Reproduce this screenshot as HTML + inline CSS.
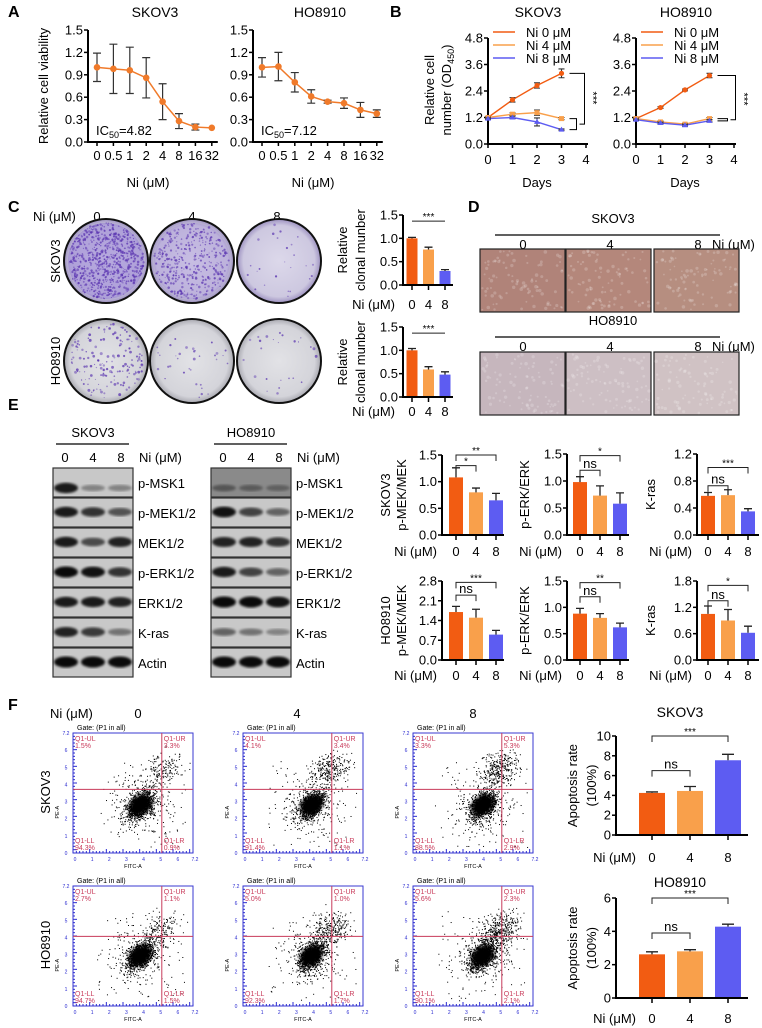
<!DOCTYPE html>
<html><head><meta charset="utf-8">
<style>
html,body{margin:0;padding:0;background:#fff;}
svg{display:block;font-family:"Liberation Sans",Arial,sans-serif;}
</style></head>
<body>
<svg id="fig" width="762" height="1028" viewBox="0 0 762 1028" xmlns="http://www.w3.org/2000/svg">
<defs>
<radialGradient id="dishLight" cx="50%" cy="50%" r="50%"><stop offset="0%" stop-color="#dcd8ea"/><stop offset="85%" stop-color="#cdc8e0"/><stop offset="100%" stop-color="#9c90c0"/></radialGradient>
<radialGradient id="dishGray" cx="50%" cy="50%" r="50%"><stop offset="0%" stop-color="#e2e2e6"/><stop offset="85%" stop-color="#d4d4da"/><stop offset="100%" stop-color="#a8a8b0"/></radialGradient>
<filter id="blur1"><feGaussianBlur stdDeviation="1.2"/></filter>
<filter id="blur2"><feGaussianBlur stdDeviation="2"/></filter>
</defs>
</svg>
<script>
// ---------- DATA ----------
const aDoses=['0','0.5','1','2','4','8','16','32'];
const aSkovMean=[1.0,0.98,0.96,0.86,0.54,0.28,0.20,0.19];
const aSkovErr=[0.19,0.33,0.31,0.27,0.24,0.10,0.04,0.0];
const aHoMean=[1.0,1.01,0.80,0.61,0.54,0.52,0.43,0.38];
const aHoErr=[0.13,0.19,0.13,0.09,0.02,0.07,0.10,0.05];
const aYTicks=[0,0.3,0.6,0.9,1.2,1.5];

const bDays=[0,1,2,3];
const bXTicks=[0,1,2,3,4];
const bYTicks=[0,1.2,2.4,3.6,4.8];
const bSkov0=[1.2,2.0,2.65,3.2], bSkov0Err=[0.04,0.1,0.12,0.2];
const bSkov4=[1.2,1.35,1.42,1.15], bSkov4Err=[0.03,0.06,0.12,0.05];
const bSkov8=[1.15,1.2,1.0,0.65], bSkov8Err=[0.03,0.06,0.18,0.03];
const bHo0=[1.15,1.65,2.45,3.1], bHo0Err=[0.03,0.04,0.04,0.1];
const bHo4=[1.15,1.0,0.9,1.15], bHo4Err=[0.03,0.04,0.04,0.05];
const bHo8=[1.1,0.95,0.85,1.05], bHo8Err=[0.03,0.04,0.04,0.05];
const legendLabels=['Ni 0 μM','Ni 4 μM','Ni 8 μM'];

const doseLabels=['0','4','8'];
const cSkovVals=[1.0,0.76,0.30], cSkovErr=[0.02,0.05,0.03];
const cHoVals=[1.0,0.59,0.48], cHoErr=[0.04,0.06,0.06];
const cYTicks=[0,0.5,1.0,1.5];
const dishDensity=[[700,380,25],[160,35,25]];

const eSkovMek=[1.08,0.80,0.65], eSkovMekErr=[0.18,0.08,0.13];
const eSkovErk=[0.98,0.73,0.58], eSkovErkErr=[0.10,0.18,0.20];
const eSkovKras=[0.58,0.59,0.35], eSkovKrasErr=[0.05,0.08,0.04];
const eHoMek=[1.70,1.50,0.90], eHoMekErr=[0.20,0.30,0.15];
const eHoErk=[0.88,0.80,0.62], eHoErkErr=[0.10,0.08,0.08];
const eHoKras=[1.05,0.90,0.62], eHoKrasErr=[0.18,0.25,0.15];
const blotLabels=['p-MSK1','p-MEK1/2','MEK1/2','p-ERK1/2','ERK1/2','K-ras','Actin'];
const blotSkov=[[0.9,0.25,0.25],[0.9,0.75,0.55],[0.9,0.6,0.85],[1,0.95,0.75],[0.9,0.9,0.85],[0.85,0.7,0.35],[1,1,1]];
const blotHo=[[0.3,0.25,0.2],[0.95,0.65,0.45],[0.85,0.85,0.75],[0.9,0.65,0.45],[1,1,0.95],[0.45,0.35,0.25],[1,1,1]];

const fSkovVals=[4.25,4.45,7.55], fSkovErr=[0.1,0.45,0.6];
const fHoVals=[2.62,2.8,4.28], fHoErr=[0.15,0.1,0.15];
const fSkovTicks=[0,2,4,6,8,10], fHoTicks=[0,2,4,6];
const flowUL=[['1.5%','4.1%','3.3%'],['2.7%','5.0%','5.6%']];
const flowUR=[['3.3%','3.4%','5.3%'],['1.1%','1.0%','2.3%']];
const flowLL=[['94.3%','91.4%','88.5%'],['94.7%','92.3%','90.1%']];
const flowLR=[['0.9%','1.1%','2.9%'],['1.5%','1.7%','2.1%']];

// ---------- HELPERS ----------
const NS='http://www.w3.org/2000/svg';
const svg=document.getElementById('fig');
const C0='#f25c12', C4='#f9a04b', C8='#5d5cf2';
function mk(tag,a,p){const e=document.createElementNS(NS,tag);for(const k in a)e.setAttribute(k,a[k]);(p||svg).appendChild(e);return e;}
function nm(e,n){
return e;}
function tx(s,x,y,size,anchor,extra,p){const t=mk('text',Object.assign({x:x,y:y,'font-size':size,'text-anchor':anchor||'middle',fill:'#000'},extra||{}),p);t.textContent=s;return t;}
function vt(s,x,y,size){return tx(s,x,y,size,'middle',{transform:'rotate(-90 '+x+' '+y+')'});}
let seed=12345;function rnd(){seed=(seed*16807)%2147483647;return seed/2147483647;}
function gauss(){return (rnd()+rnd()+rnd()+rnd()+rnd()+rnd()-3)/0.707;}

// panel letters
[['A',8,17],['B',390,17],['C',8,212],['D',468,212],['E',8,410],['F',8,710]].forEach(l=>{const t=tx(l[0],l[1],l[2],16,'start',{'font-weight':'bold'});nm(t,'panel-label-'+l[0].toLowerCase());});

// ---------- PANEL A ----------
function lineChartA(ax,mean,err,title,ic,key){
  const yTop=30,yBot=142;
  const y=v=>yBot-v/1.5*(yBot-yTop);
  const x=i=>ax+9+i*16.4;
  const g=mk('g',{});nm(g,'viability-chart-'+key);
  let e=mk('path',{d:`M${ax},${yTop} V${yBot} H${x(7)+6}`,stroke:'#000','stroke-width':2,fill:'none'},g);nm(e,'axes');
  aYTicks.forEach(v=>{e=mk('line',{x1:ax-4,x2:ax,y1:y(v),y2:y(v),stroke:'#000','stroke-width':1.5},g);nm(e,'y-tick');
    e=tx(v.toFixed(1),ax-5,y(v)+4.5,13,'end',{},g);nm(e,'y-tick-label');});
  aDoses.forEach((d,i)=>{e=mk('line',{x1:x(i),x2:x(i),y1:yBot,y2:yBot+4,stroke:'#000','stroke-width':1.5},g);nm(e,'x-tick');
    e=tx(d,x(i),160,13,'middle',{},g);nm(e,'x-tick-label');});
  e=mk('polyline',{points:mean.map((v,i)=>x(i)+','+y(v)).join(' '),stroke:'#f07a2a','stroke-width':1.5,fill:'none'},g);nm(e,'viability-line');
  mean.forEach((v,i)=>{
    if(err[i]>0){e=mk('path',{d:`M${x(i)},${y(v-err[i])}V${y(v+err[i])}M${x(i)-4},${y(v-err[i])}h8M${x(i)-4},${y(v+err[i])}h8`,stroke:'#333','stroke-width':1.2,fill:'none'},g);nm(e,'error-bar');}
    e=mk('circle',{cx:x(i),cy:y(v),r:3.3,fill:'#f07a2a'},g);nm(e,'data-point');});
  e=tx(title,ax+67,17,14,'middle',{},g);nm(e,'chart-title');
  e=tx('Ni (μM)',ax+60,187,13,'middle',{},g);nm(e,'x-axis-title');
  const t=tx('IC',ax+8,135,13,'start',{},g);nm(t,'ic50-label');
  const s=mk('tspan',{'font-size':9,dy:3},t);s.textContent='50';
  const s2=mk('tspan',{dy:-3},t);s2.textContent='='+ic;
}
let t0=vt('Relative cell viability',48,86,13);nm(t0,'y-axis-title');
lineChartA(88,aSkovMean,aSkovErr,'SKOV3','4.82','skov3');
lineChartA(253,aHoMean,aHoErr,'HO8910','7.12','ho8910');

// ---------- PANEL B ----------
function lineChartB(ax,series,errs,title,key,br){
  const yTop=38,yBot=144;
  const y=v=>yBot-v/4.8*(yBot-yTop);
  const x=d=>ax+d*24.5;
  const cols=[C0,C4,C8];
  const g=mk('g',{});nm(g,'growth-chart-'+key);
  let e=mk('path',{d:`M${ax},${yTop} V${yBot} H${x(4)+2}`,stroke:'#000','stroke-width':2,fill:'none'},g);nm(e,'axes');
  bYTicks.forEach(v=>{e=mk('line',{x1:ax-4,x2:ax,y1:y(v),y2:y(v),stroke:'#000','stroke-width':1.5},g);nm(e,'y-tick');
    e=tx(v.toFixed(1),ax-5,y(v)+4.5,13,'end',{},g);nm(e,'y-tick-label');});
  bXTicks.forEach(d=>{e=mk('line',{x1:x(d),x2:x(d),y1:yBot,y2:yBot+4,stroke:'#000','stroke-width':1.5},g);nm(e,'x-tick');
    e=tx(String(d),x(d),164,13,'middle',{},g);nm(e,'x-tick-label');});
  series.forEach((s,k)=>{
    e=mk('polyline',{points:s.map((v,i)=>x(bDays[i])+','+y(v)).join(' '),stroke:cols[k],'stroke-width':1.4,fill:'none'},g);nm(e,'series-line-'+k);
    s.forEach((v,i)=>{const xx=x(bDays[i]),er=errs[k][i];
      e=mk('path',{d:`M${xx},${y(v-er)}V${y(v+er)}M${xx-3},${y(v-er)}h6M${xx-3},${y(v+er)}h6`,stroke:'#333','stroke-width':1.1,fill:'none'},g);nm(e,'error-bar');
      if(k==2){e=mk('path',{d:`M${xx},${y(v)-3}l3,5h-6z`,fill:cols[k]},g);}else if(k==1){e=mk('rect',{x:xx-2.5,y:y(v)-2.5,width:5,height:5,fill:cols[k]},g);}else{e=mk('circle',{cx:xx,cy:y(v),r:2.6,fill:cols[k]},g);}
      nm(e,'data-point');});
    const ly=32+k*13;
    e=mk('line',{x1:ax+5,x2:ax+27,y1:ly,y2:ly,stroke:cols[k],'stroke-width':1.4},g);nm(e,'legend-line');
    e=tx(legendLabels[k],ax+38,ly+5,13,'start',{},g);nm(e,'legend-entry');});
  const xa=x(3)+8;
  e=mk('path',{d:`M${xa},${y(series[0][3])} H${xa+br} V${y((series[1][3]+series[2][3])/2)} H${xa+br-5}`,stroke:'#000',fill:'none','stroke-width':1},g);nm(e,'significance-bracket');
  e=mk('path',{d:`M${xa},${y(series[1][3])} H${xa+br-8} V${y(series[2][3])} H${xa}`,stroke:'#000',fill:'none','stroke-width':1},g);nm(e,'significance-bracket');
  const sx=xa+br+5,sy=y((series[0][3]+series[1][3])/2)+2;
  e=tx('***',sx,sy,11,'middle',{transform:`rotate(90 ${sx} ${sy})`},g);nm(e,'significance-stars');
  e=tx(title,ax+50,17,14,'middle',{},g);nm(e,'chart-title');
  e=tx('Days',ax+49,187,13,'middle',{},g);nm(e,'x-axis-title');
}
t0=vt('Relative cell',434,90,13);nm(t0,'y-axis-title');
t0=vt('',451,90,13);nm(t0,'y-axis-title-2');
t0.textContent='number (OD';let ts=mk('tspan',{'font-size':9,dy:3},t0);ts.textContent='450';ts=mk('tspan',{dy:-3},t0);ts.textContent=')';
lineChartB(488,[bSkov0,bSkov4,bSkov8],[bSkov0Err,bSkov4Err,bSkov8Err],'SKOV3','skov3',15);
lineChartB(636,[bHo0,bHo4,bHo8],[bHo0Err,bHo4Err,bHo8Err],'HO8910','ho8910',18);

// ---------- BAR CHART HELPER ----------
function barChart(o){
  const g=mk('g',{});nm(g,o.name);
  const y=v=>o.yBot-v/o.ymax*(o.yBot-o.yTop);
  const x=i=>o.ax+o.off+i*o.step;
  const cols=[C0,C4,C8];
  o.vals.forEach((v,i)=>{
    let e=mk('rect',{x:x(i)-o.bw/2,y:y(v),width:o.bw,height:o.yBot-y(v),fill:cols[i]},g);nm(e,'bar-'+doseLabels[i]);
    const t=y(v+o.errs[i]);
    e=mk('path',{d:`M${x(i)},${y(v)}V${t}M${x(i)-o.cap},${t}h${o.cap*2}`,stroke:'#222','stroke-width':1.3,fill:'none'},g);nm(e,'error-bar');});
  let e=mk('path',{d:`M${o.ax},${o.yTop} V${o.yBot} H${o.ax+o.xEnd}`,stroke:'#000','stroke-width':2,fill:'none'},g);nm(e,'axes');
  o.ticks.forEach(v=>{e=mk('line',{x1:o.ax-4,x2:o.ax,y1:y(v),y2:y(v),stroke:'#000','stroke-width':1.5},g);nm(e,'y-tick');
    e=tx(o.fmt(v),o.ax-5,y(v)+4.5,o.fs||13,'end',{},g);nm(e,'y-tick-label');});
  doseLabels.forEach((d,i)=>{e=mk('line',{x1:x(i),x2:x(i),y1:o.yBot,y2:o.yBot+5,stroke:'#000','stroke-width':1.5},g);nm(e,'x-tick');
    e=tx(d,x(i),o.lblY,o.fs||13,'middle',{},g);nm(e,'x-tick-label');});
  e=tx('Ni (μM)',o.niX,o.lblY,o.fs||13,'end',{},g);nm(e,'x-axis-title');
  (o.sig||[]).forEach(s=>{const yl=y(s[3]);const drop=s[4]===undefined?6:s[4];
    e=mk('path',{d:`M${x(s[0])},${yl+drop}V${yl}H${x(s[1])}V${yl+drop}`,stroke:'#222','stroke-width':1,fill:'none'},g);nm(e,'significance-bracket');
    const isNs=s[2]=='ns';
    e=tx(s[2],(x(s[0])+x(s[1]))/2,yl+(isNs?-2:-1),isNs?13:10,'middle',{},g);nm(e,'significance-label');});
  (o.ylab||[]).forEach(l=>{e=vt(l[0],l[1],(o.yTop+o.yBot)/2,13);nm(e,'y-axis-title');g.appendChild(e);});
  return g;
}
const f1=v=>v.toFixed(1), f0=v=>String(v);

// ---------- PANEL C ----------
t0=tx('Ni (μM)',33,221,13,'start');nm(t0,'dose-header');
[['0',97],['4',192],['8',277]].forEach(d=>{const t=tx(d[0],d[1],221,13);nm(t,'dose-label');});
t0=vt('SKOV3',60,261,13);nm(t0,'row-label-skov3');
t0=vt('HO8910',60,361,13);nm(t0,'row-label-ho8910');
[106,192,279].forEach((cx,i)=>{[261,361].forEach((cy,r)=>{
  const g=mk('g',{});nm(g,'colony-dish');
  let e=mk('circle',{cx:cx,cy:cy,r:42,fill:r==0?'url(#dishLight)':'url(#dishGray)',stroke:'#111','stroke-width':2},g);nm(e,'dish');
  if(r==0&&i<2){e=mk('circle',{cx:cx,cy:cy,r:38,fill:'#8a70d0','fill-opacity':i==0?0.45:0.25},g);nm(e,'stain-haze');}
  const n=dishDensity[r][i];
  for(let k=0;k<n;k++){const a=rnd()*6.283,rr=Math.sqrt(rnd())*38;
    mk('circle',{cx:cx+Math.cos(a)*rr,cy:cy+Math.sin(a)*rr,r:0.5+rnd()*(r==0?0.8:1.0),fill:'#5a34b0','fill-opacity':0.4+rnd()*0.4},g);}
});});
barChart({name:'clonal-chart-skov3',ax:403,yTop:215,yBot:285,ymax:1.5,ticks:cYTicks,fmt:f1,vals:cSkovVals,errs:cSkovErr,off:9,step:16.5,bw:11,cap:4,xEnd:50,lblY:309,niX:395,sig:[[0,2,'***',1.37,0]],ylab:[['Relative',347],['clonal munber',365]]});
barChart({name:'clonal-chart-ho8910',ax:403,yTop:327,yBot:397,ymax:1.5,ticks:cYTicks,fmt:f1,vals:cHoVals,errs:cHoErr,off:9,step:16.5,bw:11,cap:4,xEnd:50,lblY:416,niX:395,sig:[[0,2,'***',1.37,0]],ylab:[['Relative',347],['clonal munber',365]]});

// ---------- PANEL D ----------
function morph(title,yT,imgY,colors,key){
  let e=tx(title,613,yT,13);nm(e,'cell-line-title-'+key);
  e=mk('line',{x1:495,x2:720,y1:yT+12,y2:yT+12,stroke:'#000','stroke-width':1.2});nm(e,'title-underline');
  [['0',523],['4',610],['8',698]].forEach(d=>{const t=tx(d[0],d[1],yT+26,13);nm(t,'dose-label');});
  e=tx('Ni (μM)',712,yT+26,13,'start');nm(e,'dose-unit');
  [480,566,654].forEach((x,i)=>{const r=mk('rect',{x:x,y:imgY,width:85,height:63,fill:colors[i],stroke:'#222','stroke-width':1.2});nm(r,'micrograph-'+key+'-'+i);
    for(let k=0;k<90;k++){mk('circle',{cx:x+2+rnd()*81,cy:imgY+2+rnd()*59,r:0.8+rnd()*1,fill:'#fff','fill-opacity':0.2});}});
}
morph('SKOV3',223,249,['#b08379','#b4877b','#b68e80'],'skov3');
morph('HO8910',325,352,['#c6b6bd','#cdbfc4','#d0c2c4'],'ho8910');

// ---------- PANEL E: blots ----------
function blots(x0,title,inten,key){
  let e=tx(title,x0+40,437,13);nm(e,'blot-title-'+key);
  e=mk('line',{x1:x0+3,x2:x0+76,y1:444,y2:444,stroke:'#000','stroke-width':1.2});nm(e,'title-underline');
  doseLabels.forEach((d,i)=>{const t=tx(d,x0+12+i*28,462,13);nm(t,'lane-label');});
  e=tx('Ni (μM)',x0+86,462,13,'start');nm(e,'dose-unit');
  blotLabels.forEach((lab,r)=>{const yy=468+r*30;
    const g=mk('g',{});nm(g,'blot-'+lab.toLowerCase().replace(/[^a-z0-9]/g,'')+'-'+key);
    let b=mk('rect',{x:x0,y:yy,width:80,height:29,fill:r==0&&key=='ho8910'?'#8a8a8a':'#c8c8c8',stroke:'#333','stroke-width':1.2},g);nm(b,'blot-strip');
    inten[r].forEach((v,i)=>{const bb=mk('ellipse',{cx:x0+13+i*27,cy:yy+(r==0?20:14),rx:12,ry:2.5+v*3,fill:'#000','fill-opacity':0.15+v*0.8,filter:'url(#blur1)'},g);nm(bb,'band');});
    const t=tx(lab,x0+85,yy+20,13,'start',{},g);nm(t,'protein-label');});
}
blots(53,'SKOV3',blotSkov,'skov3');
blots(211,'HO8910',blotHo,'ho8910');

// ---------- PANEL E: bars ----------
barChart({name:'skov3-pmek-chart',ax:442,yTop:455,yBot:535,ymax:1.5,ticks:[0,0.5,1.0,1.5],fmt:f1,vals:eSkovMek,errs:eSkovMekErr,off:14,step:20,bw:14,cap:4,xEnd:62,lblY:556,niX:437,sig:[[0,1,'*',1.3],[0,2,'**',1.5]],ylab:[['SKOV3',390],['p-MEK/MEK',406]]});
barChart({name:'skov3-perk-chart',ax:567,yTop:454,yBot:535,ymax:1.5,ticks:[0,0.5,1.0,1.5],fmt:f1,vals:eSkovErk,errs:eSkovErkErr,off:13,step:20,bw:14,cap:4,xEnd:62,lblY:556,niX:562,sig:[[0,1,'ns',1.2],[0,2,'*',1.47]],ylab:[['p-ERK/ERK',529]]});
barChart({name:'skov3-kras-chart',ax:697,yTop:454,yBot:535,ymax:1.2,ticks:[0,0.4,0.8,1.2],fmt:f1,vals:eSkovKras,errs:eSkovKrasErr,off:11,step:20,bw:14,cap:4,xEnd:62,lblY:556,niX:692,sig:[[0,1,'ns',0.73],[0,2,'***',1.0]],ylab:[['K-ras',655]]});
barChart({name:'ho8910-pmek-chart',ax:442,yTop:581,yBot:660,ymax:2.8,ticks:[0,0.7,1.4,2.1,2.8],fmt:f1,vals:eHoMek,errs:eHoMekErr,off:14,step:20,bw:14,cap:4,xEnd:62,lblY:680,niX:437,sig:[[0,1,'ns',2.3],[0,2,'***',2.75]],ylab:[['HO8910',390],['p-MEK/MEK',406]]});
barChart({name:'ho8910-perk-chart',ax:567,yTop:581,yBot:660,ymax:1.5,ticks:[0,0.5,1.0,1.5],fmt:f1,vals:eHoErk,errs:eHoErkErr,off:13,step:20,bw:14,cap:4,xEnd:62,lblY:680,niX:562,sig:[[0,1,'ns',1.2],[0,2,'**',1.47]],ylab:[['p-ERK/ERK',529]]});
barChart({name:'ho8910-kras-chart',ax:697,yTop:581,yBot:660,ymax:1.8,ticks:[0,0.6,1.2,1.8],fmt:f1,vals:eHoKras,errs:eHoKrasErr,off:11,step:20,bw:14,cap:4,xEnd:62,lblY:680,niX:692,sig:[[0,1,'ns',1.35],[0,2,'*',1.7]],ylab:[['K-ras',655]]});

// ---------- PANEL F: flow ----------
t0=tx('Ni (μM)',50,718,13,'start');nm(t0,'dose-header');
[['0',138],['4',297],['8',473]].forEach(d=>{const t=tx(d[0],d[1],718,13);nm(t,'dose-label');});
t0=vt('SKOV3',50,792,13);nm(t0,'row-label-skov3');
t0=vt('HO8910',50,945,13);nm(t0,'row-label-ho8910');
function flow(bx,by,r,c){
  const W=120,H=120,qx=bx+W*0.74,qy=by+H*(r==0?0.47:0.42);
  const g=mk('g',{});nm(g,'flow-plot-r'+r+'-c'+c);
  let e=tx('Gate: (P1 in all)',bx+4,by-3,7,'start',{},g);nm(e,'gate-label');
  const cx=bx+W*(0.56+c*0.01),cy=by+H*(r==0?0.6:0.58);
  e=mk('ellipse',{cx:cx,cy:cy,rx:12,ry:9,fill:'#000',transform:`rotate(-35 ${cx} ${cy})`,filter:'url(#blur2)'},g);nm(e,'live-cell-cluster');
  for(let k=0;k<900;k++){const px=cx+gauss()*7,py=cy+gauss()*6.5-(px-cx)*0.5;mk('rect',{x:px,y:py,width:1,height:1,fill:'#000'},g);}
  for(let k=0;k<250;k++){const px=cx+gauss()*14,py=cy+gauss()*14;mk('rect',{x:px,y:py,width:1,height:1,fill:'#000'},g);}
  const ux=bx+W*(0.72+0.04*(c==0&&r==0)),uy=by+H*(r==0?0.3:0.36);
  for(let k=0;k<160+c*90;k++){const px=ux+gauss()*9,py=uy+gauss()*8+(ux-px)*0.2;mk('rect',{x:px,y:py,width:1,height:1,fill:'#000'},g);}
  for(let k=0;k<80;k++){const px=bx+25+rnd()*90,py=by+20+rnd()*95;if(Math.abs(px-cx)<45&&Math.abs(py-cy)<45)mk('rect',{x:px,y:py,width:1,height:1,fill:'#000'},g);}
  e=mk('rect',{x:bx,y:by,width:W,height:H,fill:'none',stroke:'#3a3ad0','stroke-width':1},g);nm(e,'plot-frame');
  for(let k=0;k<=36;k++){const yy=by+H*k/36,len=k%5==0?4:2;mk('line',{x1:bx,x2:bx+len,y1:yy,y2:yy,stroke:'#2a2ad0','stroke-width':1},g);
    const xx=bx+W*k/36;mk('line',{x1:xx,x2:xx,y1:by+H,y2:by+H-len,stroke:'#2a2ad0','stroke-width':1},g);}
  for(let k=0;k<=7;k++){tx(String(k==7?'7.2':k),bx-7,by+H-k*H/7+2,5,'middle',{fill:'#2a2ad0'},g);tx(String(k==7?'7.2':k),bx+k*W/7+2,by+H+8,5,'middle',{fill:'#2a2ad0'},g);}
  e=mk('line',{x1:qx,x2:qx,y1:by,y2:by+H,stroke:'#c83a5a','stroke-width':1},g);nm(e,'quadrant-line-v');
  e=mk('line',{x1:bx,x2:bx+W,y1:qy,y2:qy,stroke:'#c83a5a','stroke-width':1},g);nm(e,'quadrant-line-h');
  const rc={fill:'#c83a5a'};
  e=tx('Q1-UL',bx+2,by+8,7,'start',rc,g);nm(e,'quadrant-name');e=tx(flowUL[r][c],bx+2,by+15,7,'start',rc,g);nm(e,'quadrant-ul-value');
  e=tx('Q1-UR',qx+2,by+8,7,'start',rc,g);nm(e,'quadrant-name');e=tx(flowUR[r][c],qx+2,by+15,7,'start',rc,g);nm(e,'quadrant-ur-value');
  e=tx('Q1-LL',bx+2,by+H-10,7,'start',rc,g);nm(e,'quadrant-name');e=tx(flowLL[r][c],bx+2,by+H-3,7,'start',rc,g);nm(e,'quadrant-ll-value');
  e=tx('Q1-LR',qx+2,by+H-10,7,'start',rc,g);nm(e,'quadrant-name');e=tx(flowLR[r][c],qx+2,by+H-3,7,'start',rc,g);nm(e,'quadrant-lr-value');
  e=tx('FITC-A',bx+60,by+H+15,5.5,'middle',{},g);nm(e,'x-axis-title');
  e=vt('PE-A',bx-14,by+H*0.66,5.5);g.appendChild(e);nm(e,'y-axis-title');
}
[73,243,413].forEach((bx,c)=>{flow(bx,733,0,c);flow(bx,886,1,c);});

t0=tx('SKOV3',680,717,14);nm(t0,'chart-title-skov3');
t0=tx('HO8910',680,887,14);nm(t0,'chart-title-ho8910');
barChart({name:'apoptosis-chart-skov3',ax:616,yTop:736,yBot:835,ymax:10,ticks:fSkovTicks,fmt:f0,vals:fSkovVals,errs:fSkovErr,off:36,step:38,bw:26,cap:6,xEnd:132,lblY:862,niX:636,sig:[[0,1,'ns',6.5],[0,2,'***',10.0]],ylab:[['Apoptosis rate',577],['(100%)',596]]});
barChart({name:'apoptosis-chart-ho8910',ax:616,yTop:898,yBot:998,ymax:6,ticks:fHoTicks,fmt:f0,vals:fHoVals,errs:fHoErr,off:36,step:38,bw:26,cap:6,xEnd:132,lblY:1023,niX:636,sig:[[0,1,'ns',3.9],[0,2,'***',6.0]],ylab:[['Apoptosis rate',577],['(100%)',596]]});
</script>
</body></html>
